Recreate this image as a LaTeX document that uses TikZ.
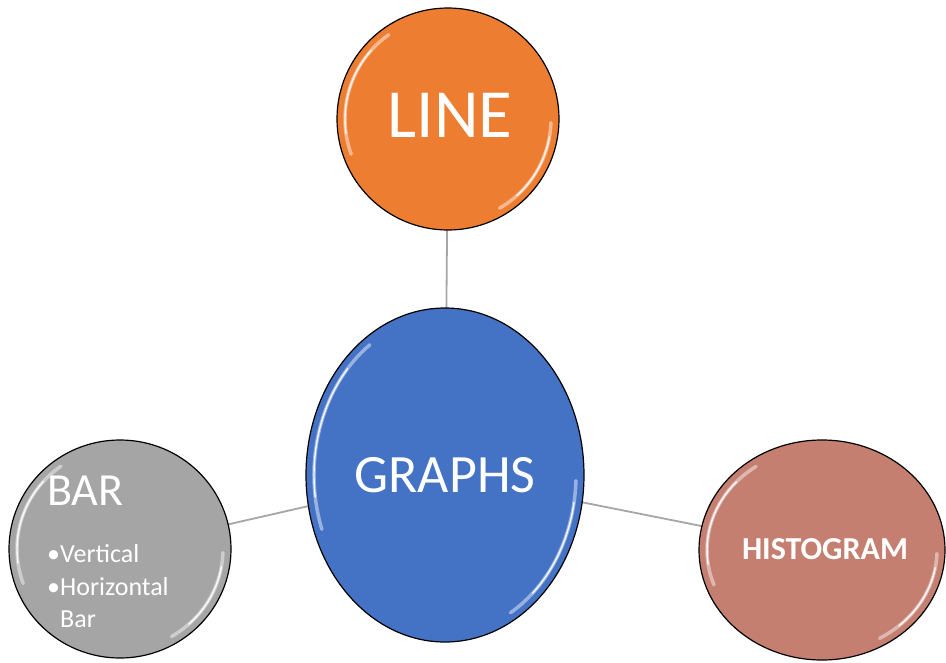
\documentclass[tikz,border=0pt]{standalone}
\usepackage{fontspec}
\setmainfont{Carlito}
\usetikzlibrary{shapes.geometric}
\definecolor{orangeC}{HTML}{ED7D31}
\definecolor{blueC}{HTML}{4472C4}
\definecolor{grayC}{HTML}{A5A5A5}
\definecolor{histC}{HTML}{C47F70}
\definecolor{linkC}{HTML}{A6A6A6}
\begin{document}
\begin{tikzpicture}[x=1pt,y=-1pt,
  bubble/.style={ellipse, draw=black, line width=1.2pt, inner sep=0pt},
  link/.style={draw=linkC, line width=1.8pt},
  txt/.style={text=white, inner sep=0pt},
  gloss/.style={white, line width=3.5pt, opacity=0.45, line cap=round},
  glossin/.style={white, line width=1.4pt, opacity=0.9, line cap=round}
]
\useasboundingbox (0,0) rectangle (946,662);
% connectors (behind)
\coordinate (lc) at (448,119);
\coordinate (gc) at (445,475);
\coordinate (bc) at (120,549);
\coordinate (hc) at (822,550);
\draw[link] (lc) -- (gc);
\draw[link] (bc) -- (gc);
\draw[link] (gc) -- (hc);
% bubbles
\node[bubble, fill=orangeC, minimum width=222pt, minimum height=222pt] (line) at (lc) {};
\node[bubble, fill=blueC, minimum width=278pt, minimum height=334pt] (graphs) at (gc) {};
\node[bubble, fill=grayC, minimum width=222pt, minimum height=218pt] (bar) at (bc) {};
\node[bubble, fill=histC, minimum width=246pt, minimum height=220pt] (hist) at (hc) {};
% gloss highlights
\foreach \c/\rx/\ry in {lc/111/111, gc/139/167, bc/111/109, hc/123/110}{
  \draw[gloss] (\c) ++(-125:{\rx-8} and {\ry-8}) arc[start angle=-125, end angle=-200, x radius=\rx-8, y radius=\ry-8];
  \draw[glossin] (\c) ++(-138:{\rx-8} and {\ry-8}) arc[start angle=-138, end angle=-188, x radius=\rx-8, y radius=\ry-8];
  \draw[gloss] (\c) ++(2:{\rx-8} and {\ry-8}) arc[start angle=2, end angle=60, x radius=\rx-8, y radius=\ry-8];
  \draw[glossin] (\c) ++(10:{\rx-8} and {\ry-8}) arc[start angle=10, end angle=48, x radius=\rx-8, y radius=\ry-8];
}
% texts
\node[txt, anchor=base] (linet) at (450,137) {\fontsize{69}{74}\selectfont LINE};
\node[txt, anchor=base] (graphst) at (445,492) {\fontsize{54}{60}\selectfont GRAPHS};
\node[txt, anchor=base] (histt) at (825,559) {\fontsize{32}{36}\selectfont\bfseries HISTOGRAM};
\node[txt, anchor=base west] (bart) at (47,505) {\fontsize{46}{50}\selectfont BAR};
\node[txt, anchor=base west] (vert) at (47,562) {\fontsize{26}{30}\selectfont •Vertical};
\node[txt, anchor=base west] (hort) at (47,595) {\fontsize{26}{30}\selectfont •Horizontal};
\node[txt, anchor=base west] (bart2) at (60,627) {\fontsize{26}{30}\selectfont Bar};
\end{tikzpicture}
\end{document}
